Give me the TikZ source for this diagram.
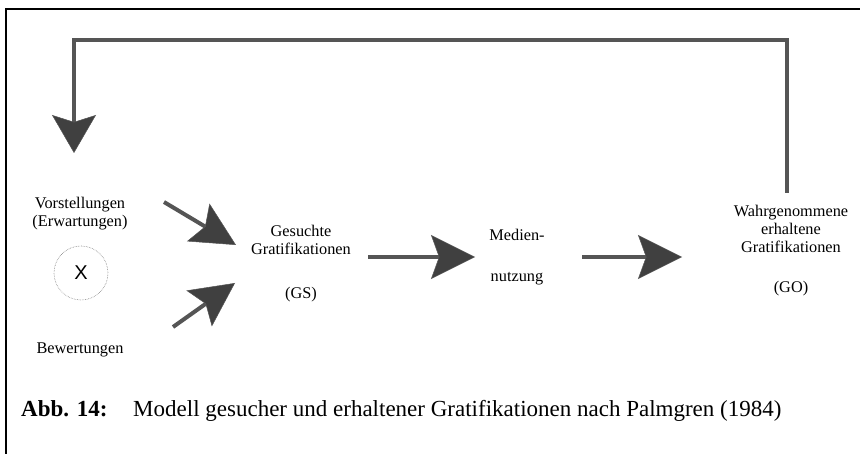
\documentclass[tikz,border=0pt]{standalone}
\usepackage{fontspec}
\setmainfont{Liberation Serif}
\newfontfamily\xsans{Liberation Sans}
\usetikzlibrary{arrows.meta}
\definecolor{linegray}{HTML}{555555}
\definecolor{headgray}{HTML}{404040}
\begin{document}
\begin{tikzpicture}[x=1pt,y=-1pt,
  lbl/.style={align=center,font=\fontsize{16.3}{18}\selectfont,inner sep=0pt},
  captxt/.style={anchor=base west,font=\fontsize{23}{26}\selectfont,inner sep=0pt},
  conn/.style={draw=linegray,line width=4pt,
    -{Stealth[length=44pt,width=44pt,inset=8pt,line width=0.5pt,fill=headgray]}},
  fb/.style={draw=linegray,line width=4pt,
    -{Stealth[length=38pt,width=44pt,inset=7pt,line width=0.5pt,fill=headgray]}},
  mult/.style={circle,draw=gray,densely dotted,line width=0.6pt,minimum size=54pt,inner sep=0pt,
    font=\xsans\fontsize{20}{22}\selectfont},
  framebox/.style={draw=black,line width=2.5pt}
]
\useasboundingbox (0,0) rectangle (860,454);
% frame (only top and left edges visible)
\draw[framebox] (6,454) -- (6,9) -- (860,9);

% nodes
\node[lbl] (vor) at (80,214) {Vorstellungen\\(Erwartungen)};
\node[mult] (xm) at (81,273) {X};
\node[lbl] (bew) at (80,350) {Bewertungen};
\node[lbl] (gs) at (301,264) {Gesuchte\\Gratifikationen\\[26pt](GS)};
\node[lbl] (med) at (517,257) {Medien-\\[23pt]nutzung};
\node[lbl] (go) at (791,251) {Wahrgenommene\\erhaltene\\Gratifikationen\\[22pt](GO)};

% connector end points
\coordinate (a1s) at (164,202);
\coordinate (a1e) at (236,245);
\coordinate (a2s) at (173,327);
\coordinate (a2e) at (235,283);
\coordinate (a3s) at (368,257);
\coordinate (a3e) at (475,257);
\coordinate (a4s) at (582,257);
\coordinate (a4e) at (682,257);
\coordinate (fbtop) at (74,40);
\coordinate (fbend) at (74,153);
\coordinate (gotop) at (787,193);

\draw[fb] (go.north -| gotop) ++(0,0) (gotop) |- (fbtop) -- (fbend);
\draw[conn] (a1s) -- (a1e);
\draw[conn] (a2s) -- (a2e);
\draw[conn] (a3s) -- (a3e);
\draw[conn] (a4s) -- (a4e);

% caption
\node[captxt,font=\bfseries\fontsize{23}{26}\selectfont] (capa) at (21,417) {Abb. 14:};
\node[captxt] (capb) at (133,417) {Modell gesucher und erhaltener Gratifikationen nach Palmgren (1984)};
\end{tikzpicture}
\end{document}
